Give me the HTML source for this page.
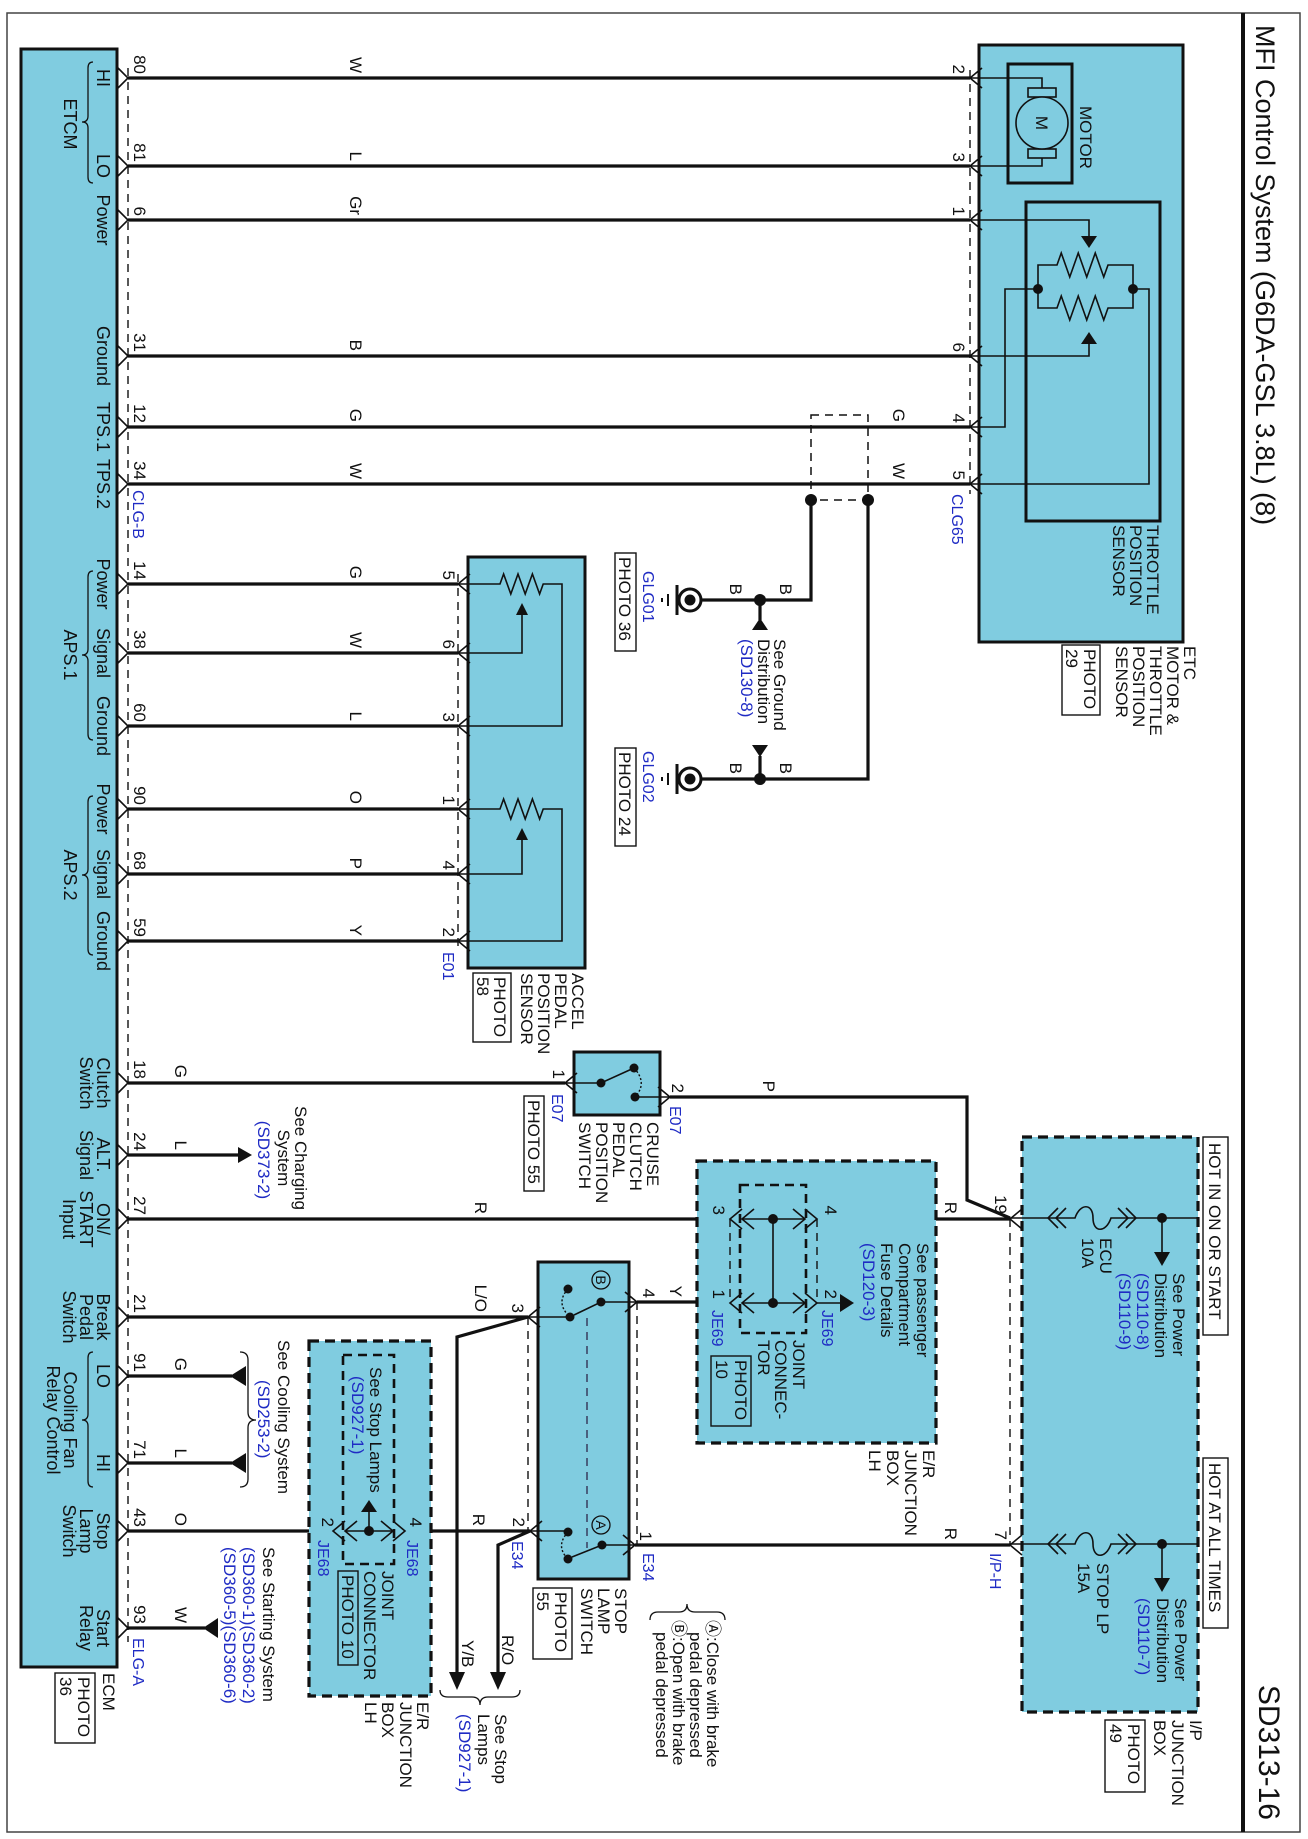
<!DOCTYPE html>
<html><head><meta charset="utf-8"><style>
html,body{margin:0;padding:0;background:#fff}
svg{display:block}
text{font-family:"Liberation Sans",Arial,sans-serif;font-size:17px;fill:#111}
.b,.b text,text.b{fill:#1f2bc4}
.s text,text.s{font-size:17px}
.b text{font-size:16px}
.m text,text.m{font-size:18px}
.w{stroke:#111;stroke-width:3.2;fill:none}
.th{stroke:#111;stroke-width:1.6;fill:none}
.dc{stroke:#111;stroke-width:1.4;fill:none;stroke-dasharray:8,6}
.box{fill:#80cce0;stroke:#111;stroke-width:3}
.jb{fill:#80cce0;stroke:#111;stroke-width:3.2;stroke-dasharray:10,6}
.ib{fill:none;stroke:#111;stroke-width:2.6;stroke-dasharray:9,6}
.pb{fill:#fff;stroke:#111;stroke-width:1.4}
.pbn{fill:none;stroke:#111;stroke-width:1.4}
</style></head><body>
<svg width="1308" height="1839" viewBox="0 0 1308 1839" xmlns="http://www.w3.org/2000/svg">
<rect x="0" y="0" width="1308" height="1839" fill="#fff"/>
<rect x="7" y="13" width="1293" height="1819" fill="none" stroke="#444" stroke-width="1.5"/>
<line x1="1243" y1="13" x2="1243" y2="1832" stroke="#111" stroke-width="4"/>
<text style="font-size:27px" transform="rotate(90 1256 25)" x="1256" y="25">MFI Control System (G6DA-GSL 3.8L) (8)</text>
<text style="font-size:30px" text-anchor="end" transform="rotate(90 1259 1820)" x="1259" y="1820">SD313-16</text>

<rect class="box" x="21" y="49" width="96" height="1618"/>
<line class="dc" x1="128" y1="68" x2="128" y2="1642"/>

<rect class="box" x="979" y="45" width="204" height="597"/>
<line class="dc" x1="970" y1="70" x2="970" y2="494"/>
<rect x="1008" y="64" width="64" height="119" fill="none" stroke="#111" stroke-width="3"/>
<rect x="1026" y="202" width="134" height="319" fill="none" stroke="#111" stroke-width="3"/>

<rect class="box" x="468" y="557" width="117" height="411"/>
<line class="dc" x1="458" y1="574" x2="458" y2="952"/>

<g class="w">
<path d="M128,78H970M128,166H970M128,220H970M128,356H970M128,427H970M128,484H970"/>
<path d="M128,584H458M128,653H458M128,726H458M128,809H458M128,874H458M128,941H458"/>
<path d="M128,1083H565M670,1097H967V1200L1010,1218"/>
<path d="M128,1155H240"/>
<path d="M128,1219H730M817,1219H1010"/>
<path d="M128,1317H528L457,1337V1675"/>
<path d="M637,1302H730"/>
<path d="M128,1376H232M128,1463H232"/>
<path d="M128,1531H333M405,1531H530L498,1545V1675"/>
<path d="M635,1545H1010"/>
<path d="M128,1628H205"/>
<path d="M811,500V600H702M868,500V779H702"/>
<path d="M760,600V620M760,779V756"/>
</g>
<path class="th" d="M118,68L128,78L118,88M118,156L128,166L118,176M118,210L128,220L118,230M118,346L128,356L118,366M118,417L128,427L118,437M118,474L128,484L118,494M118,574L128,584L118,594M118,643L128,653L118,663M118,716L128,726L118,736M118,799L128,809L118,819M118,864L128,874L118,884M118,931L128,941L118,951M118,1073L128,1083L118,1093M118,1145L128,1155L118,1165M118,1209L128,1219L118,1229M118,1307L128,1317L118,1327M118,1366L128,1376L118,1386M118,1453L128,1463L118,1473M118,1521L128,1531L118,1541M118,1618L128,1628L118,1638"/>
<path d="M238,1147L252,1155L238,1163Z M230,1376L246,1366L246,1386Z M230,1463L246,1453L246,1473Z M203,1628L218,1618L218,1638Z M449,1672L465,1672L457,1690Z M490,1672L506,1672L498,1690Z M752,630L768,630L760,618Z M752,745L768,745L760,757Z" fill="#111"/>

<path class="th" d="M982,68L970,78L982,88M982,156L970,166L982,176M982,210L970,220L982,230M982,346L970,356L982,366M982,417L970,427L982,437M982,474L970,484L982,494"/>
<path class="th" d="M970,78H1042V88M1042,158V166H970"/>
<rect x="1028" y="88" width="28" height="9" fill="none" stroke="#111" stroke-width="1.6"/>
<rect x="1028" y="149" width="28" height="9" fill="none" stroke="#111" stroke-width="1.6"/>
<circle cx="1042" cy="123" r="26" fill="#80cce0" stroke="#111" stroke-width="1.6"/>
<text text-anchor="middle" transform="rotate(90 1036 123)" x="1036" y="123">M</text>
<path class="th" d="M970,220H1089V236M970,356H1089V344"/>
<path d="M1081,236L1097,236L1089,248Z M1081,344L1097,344L1089,332Z" fill="#111"/>
<path class="th" d="M1038,289V265H1057l4.25,-12l8.5,24l8.5,-24l8.5,24l8.5,-24l8.5,24l4.25,-12H1133V289 M1038,289V308H1057l4.25,-12l8.5,24l8.5,-24l8.5,24l8.5,-24l8.5,24l4.25,-12H1133V289"/>
<path class="th" d="M1038,289H1005V427H970M1133,289H1149V484H970"/>
<circle cx="1038" cy="289" r="5" fill="#111"/><circle cx="1133" cy="289" r="5" fill="#111"/>
<rect x="811" y="415" width="57" height="85" fill="none" stroke="#111" stroke-width="1.5" stroke-dasharray="8,6"/>
<circle cx="811" cy="500" r="6" fill="#111"/><circle cx="868" cy="500" r="6" fill="#111"/>
<circle cx="760" cy="600" r="6" fill="#111"/><circle cx="760" cy="779" r="6" fill="#111"/>
<g>
<circle cx="690" cy="600" r="11" fill="#fff" stroke="#111" stroke-width="3"/><circle cx="690" cy="600" r="5.5" fill="#111"/>
<line x1="677" y1="585" x2="677" y2="615" stroke="#111" stroke-width="3"/>
<line x1="668" y1="594" x2="668" y2="606" stroke="#111" stroke-width="2"/>
<line x1="662" y1="598" x2="662" y2="602" stroke="#111" stroke-width="2"/>
<circle cx="690" cy="779" r="11" fill="#fff" stroke="#111" stroke-width="3"/><circle cx="690" cy="779" r="5.5" fill="#111"/>
<line x1="677" y1="764" x2="677" y2="794" stroke="#111" stroke-width="3"/>
<line x1="668" y1="773" x2="668" y2="785" stroke="#111" stroke-width="2"/>
<line x1="662" y1="777" x2="662" y2="781" stroke="#111" stroke-width="2"/>
</g>

<path class="th" d="M470,574L458,584L470,594M470,643L458,653L470,663M470,716L458,726L470,736M470,799L458,809L470,819M470,864L458,874L470,884M470,931L458,941L470,951"/>
<path class="th" d="M458,584H500l3.6,-10l7.2,20l7.2,-20l7.2,20l7.2,-20l7.2,20l3.6,-10H562V726H458M458,653H522V615"/>
<path class="th" d="M458,809H500l3.6,-10l7.2,20l7.2,-20l7.2,20l7.2,-20l7.2,20l3.6,-10H562V941H458M458,874H522V840"/>
<path d="M516,615L528,615L522,603Z M516,840L528,840L522,828Z" fill="#111"/>

<rect class="box" x="574" y="1052" width="86" height="63"/>
<path class="th" d="M577,1073L565,1083L577,1093M658,1087L670,1097L658,1107M565,1083H601L634,1068M635,1097H670"/>
<path d="M634,1068Q648,1083 635,1097" fill="none" stroke="#111" stroke-width="1.4" stroke-dasharray="2,2"/>
<circle cx="601" cy="1083" r="4.5" fill="#111"/><circle cx="634" cy="1068" r="4.5" fill="#111"/><circle cx="635" cy="1097" r="4.5" fill="#111"/>

<rect class="box" x="538" y="1262" width="91" height="317"/>
<line class="dc" x1="528" y1="1317" x2="528" y2="1531"/>
<line class="dc" x1="637" y1="1302" x2="637" y2="1545"/>
<line x1="587" y1="1318" x2="587" y2="1548" stroke="#335" stroke-width="1.4" stroke-dasharray="8,6"/>
<path class="th" d="M625,1292L637,1302L625,1312M540,1307L528,1317L540,1327M542,1521L530,1531L542,1541M623,1535L635,1545L623,1555"/>
<path class="th" d="M637,1302H601L574,1315M570,1317H528M530,1531H568M635,1545H602L572,1557"/>
<path d="M568,1289Q555,1303 570,1317M568,1532Q555,1546 568,1559" fill="none" stroke="#111" stroke-width="1.4" stroke-dasharray="2,2"/>
<circle cx="601" cy="1302" r="4.5" fill="#111"/><circle cx="568" cy="1289" r="4.5" fill="#111"/><circle cx="570" cy="1317" r="4.5" fill="#111"/>
<circle cx="568" cy="1532" r="4.5" fill="#111"/><circle cx="602" cy="1545" r="4.5" fill="#111"/><circle cx="568" cy="1559" r="4.5" fill="#111"/>
<circle cx="601" cy="1280" r="9" fill="none" stroke="#111" stroke-width="1.3"/>
<circle cx="601" cy="1525" r="9" fill="none" stroke="#111" stroke-width="1.3"/>
<text style="font-size:14px" text-anchor="middle" transform="rotate(90 596 1280)" x="596" y="1280">B</text>
<text style="font-size:14px" text-anchor="middle" transform="rotate(90 596 1525)" x="596" y="1525">A</text>

<rect class="jb" x="697" y="1161" width="239" height="282"/>
<rect class="ib" x="740" y="1185" width="66" height="148"/>
<line class="dc" x1="730" y1="1219" x2="730" y2="1303"/>
<line class="dc" x1="817" y1="1219" x2="817" y2="1303"/>
<path class="th" d="M742,1209L730,1219L742,1229M754,1209L742,1219L754,1229M742,1293L730,1303L742,1313M754,1293L742,1303L754,1313M805,1209L817,1219L805,1229M793,1209L805,1219L793,1229M805,1293L817,1303L805,1313M793,1293L805,1303L793,1313"/>
<path class="th" d="M742,1219H805M742,1303H805M773,1219V1303M817,1303H841"/>
<path d="M840,1294L840,1312L854,1303Z" fill="#111"/>
<circle cx="773" cy="1219" r="5" fill="#111"/><circle cx="773" cy="1303" r="5" fill="#111"/>

<rect class="jb" x="309" y="1341" width="122" height="355"/>
<rect class="ib" x="343" y="1355" width="51" height="209"/>
<path class="th" d="M345,1521L333,1531L345,1541M357,1521L345,1531L357,1541M393,1521L405,1531L393,1541M381,1521L393,1531L381,1541M345,1531H393M369,1531V1512"/>
<path d="M361,1512L377,1512L369,1500Z" fill="#111"/>
<circle cx="369" cy="1531" r="5" fill="#111"/>

<rect class="jb" x="1022" y="1137" width="176" height="575"/>
<line class="dc" x1="1010" y1="1219" x2="1010" y2="1545"/>
<path class="th" d="M1022,1209L1010,1219L1022,1229M1022,1535L1010,1545L1022,1555"/>
<path class="th" d="M1010,1218H1075C1080,1203 1093,1203 1093,1218C1093,1233 1106,1233 1111,1218H1162H1198M1162,1218V1252"/>
<path class="th" d="M1058,1208L1048,1218L1058,1228M1066,1208L1056,1218L1066,1228M1118,1208L1128,1218L1118,1228M1126,1208L1136,1218L1126,1228"/>
<path d="M1154,1252L1170,1252L1162,1266Z" fill="#111"/>
<circle cx="1162" cy="1218" r="5" fill="#111"/>
<path class="th" d="M1010,1544H1075C1080,1529 1093,1529 1093,1544C1093,1559 1106,1559 1111,1544H1162H1198M1162,1544V1578"/>
<path class="th" d="M1058,1534L1048,1544L1058,1554M1066,1534L1056,1544L1066,1554M1118,1534L1128,1544L1118,1554M1126,1534L1136,1544L1126,1554"/>
<path d="M1154,1578L1170,1578L1162,1592Z" fill="#111"/>
<circle cx="1162" cy="1544" r="5" fill="#111"/>
<rect class="pb" x="1203" y="1137" width="25" height="198"/>
<rect class="pb" x="1203" y="1458" width="25" height="170"/>
<text class="s" transform="rotate(90 1209 1143)" x="1209" y="1143">HOT IN ON OR START</text>
<text class="s" transform="rotate(90 1209 1463)" x="1209" y="1463">HOT AT ALL TIMES</text>

<g fill="none" stroke="#111" stroke-width="1.3">
<path d="M93,62Q88,62 88,68V116Q88,122 82,122Q88,122 88,128V177Q88,183 93,183"/>
<path d="M93,571Q88,571 88,577V649Q88,655 82,655Q88,655 88,661V734Q88,740 93,740"/>
<path d="M93,796Q88,796 88,802V869Q88,875 82,875Q88,875 88,881V949Q88,955 93,955"/>
<path d="M93,1352Q88,1352 88,1358V1414Q88,1420 82,1420Q88,1420 88,1426V1481Q88,1487 93,1487"/>
<path d="M240,1352Q248,1352 248,1360V1412Q248,1420 256,1420Q248,1420 248,1428V1479Q248,1487 240,1487"/>
<path d="M440,1690Q440,1697 448,1697H472Q480,1697 480,1705Q480,1697 488,1697H512Q520,1697 520,1690"/>
<path d="M650,1620Q650,1612 658,1612H679Q687,1612 687,1604Q687,1612 695,1612H717Q725,1612 725,1620"/>
</g>

<rect class="pb" x="1062" y="645" width="38" height="70"/>
<rect class="pb" x="615" y="553" width="21" height="98"/>
<rect class="pb" x="615" y="748" width="21" height="98"/>
<rect class="pb" x="473" y="973" width="38" height="69"/>
<rect class="pb" x="524" y="1096" width="20" height="95"/>
<rect class="pb" x="533" y="1588" width="39" height="71"/>
<rect class="pbn" x="711" y="1356" width="40" height="70"/>
<rect class="pbn" x="338" y="1571" width="20" height="94"/>
<rect class="pb" x="1105" y="1720" width="40" height="72"/>
<rect class="pb" x="55" y="1673" width="40" height="70"/>

<g text-anchor="end">
<text transform="rotate(90 134 74)" x="134" y="74">80</text>
<text transform="rotate(90 134 162)" x="134" y="162">81</text>
<text transform="rotate(90 134 216)" x="134" y="216">6</text>
<text transform="rotate(90 134 352)" x="134" y="352">31</text>
<text transform="rotate(90 134 423)" x="134" y="423">12</text>
<text transform="rotate(90 134 480)" x="134" y="480">34</text>
<text transform="rotate(90 134 580)" x="134" y="580">14</text>
<text transform="rotate(90 134 649)" x="134" y="649">38</text>
<text transform="rotate(90 134 722)" x="134" y="722">60</text>
<text transform="rotate(90 134 805)" x="134" y="805">90</text>
<text transform="rotate(90 134 870)" x="134" y="870">68</text>
<text transform="rotate(90 134 937)" x="134" y="937">59</text>
<text transform="rotate(90 134 1079)" x="134" y="1079">18</text>
<text transform="rotate(90 134 1151)" x="134" y="1151">24</text>
<text transform="rotate(90 134 1215)" x="134" y="1215">27</text>
<text transform="rotate(90 134 1313)" x="134" y="1313">21</text>
<text transform="rotate(90 134 1372)" x="134" y="1372">91</text>
<text transform="rotate(90 134 1459)" x="134" y="1459">71</text>
<text transform="rotate(90 134 1527)" x="134" y="1527">43</text>
<text transform="rotate(90 134 1624)" x="134" y="1624">93</text>
<text transform="rotate(90 953 74)" x="953" y="74">2</text>
<text transform="rotate(90 953 162)" x="953" y="162">3</text>
<text transform="rotate(90 953 216)" x="953" y="216">1</text>
<text transform="rotate(90 953 352)" x="953" y="352">6</text>
<text transform="rotate(90 953 423)" x="953" y="423">4</text>
<text transform="rotate(90 953 480)" x="953" y="480">5</text>
<text transform="rotate(90 443 580)" x="443" y="580">5</text>
<text transform="rotate(90 443 649)" x="443" y="649">6</text>
<text transform="rotate(90 443 722)" x="443" y="722">3</text>
<text transform="rotate(90 443 805)" x="443" y="805">1</text>
<text transform="rotate(90 443 870)" x="443" y="870">4</text>
<text transform="rotate(90 443 937)" x="443" y="937">2</text>
<text transform="rotate(90 553 1079)" x="553" y="1079">1</text>
<text transform="rotate(90 672 1093)" x="672" y="1093">2</text>
<text transform="rotate(90 643 1298)" x="643" y="1298">4</text>
<text transform="rotate(90 512 1313)" x="512" y="1313">3</text>
<text transform="rotate(90 513 1527)" x="513" y="1527">2</text>
<text transform="rotate(90 640 1541)" x="640" y="1541">1</text>
<text transform="rotate(90 713 1215)" x="713" y="1215">3</text>
<text transform="rotate(90 825 1215)" x="825" y="1215">4</text>
<text transform="rotate(90 713 1299)" x="713" y="1299">1</text>
<text transform="rotate(90 825 1299)" x="825" y="1299">2</text>
<text transform="rotate(90 410 1527)" x="410" y="1527">4</text>
<text transform="rotate(90 322 1527)" x="322" y="1527">2</text>
<text transform="rotate(90 995 1214)" x="995" y="1214">19</text>
<text transform="rotate(90 995 1540)" x="995" y="1540">7</text>
<text transform="rotate(90 350 73)" x="350" y="73">W</text>
<text transform="rotate(90 350 161)" x="350" y="161">L</text>
<text transform="rotate(90 350 215)" x="350" y="215">Gr</text>
<text transform="rotate(90 350 351)" x="350" y="351">B</text>
<text transform="rotate(90 350 422)" x="350" y="422">G</text>
<text transform="rotate(90 350 479)" x="350" y="479">W</text>
<text transform="rotate(90 893 422)" x="893" y="422">G</text>
<text transform="rotate(90 893 479)" x="893" y="479">W</text>
<text transform="rotate(90 350 579)" x="350" y="579">G</text>
<text transform="rotate(90 350 648)" x="350" y="648">W</text>
<text transform="rotate(90 350 721)" x="350" y="721">L</text>
<text transform="rotate(90 350 804)" x="350" y="804">O</text>
<text transform="rotate(90 350 869)" x="350" y="869">P</text>
<text transform="rotate(90 350 936)" x="350" y="936">Y</text>
<text transform="rotate(90 175 1078)" x="175" y="1078">G</text>
<text transform="rotate(90 175 1150)" x="175" y="1150">L</text>
<text transform="rotate(90 475 1214)" x="475" y="1214">R</text>
<text transform="rotate(90 475 1312)" x="475" y="1312">L/O</text>
<text transform="rotate(90 175 1371)" x="175" y="1371">G</text>
<text transform="rotate(90 175 1458)" x="175" y="1458">L</text>
<text transform="rotate(90 175 1526)" x="175" y="1526">O</text>
<text transform="rotate(90 175 1623)" x="175" y="1623">W</text>
<text transform="rotate(90 763 1092)" x="763" y="1092">P</text>
<text transform="rotate(90 945 1214)" x="945" y="1214">R</text>
<text transform="rotate(90 670 1297)" x="670" y="1297">Y</text>
<text transform="rotate(90 473 1526)" x="473" y="1526">R</text>
<text transform="rotate(90 945 1540)" x="945" y="1540">R</text>
<text transform="rotate(90 780 595)" x="780" y="595">B</text>
<text transform="rotate(90 730 595)" x="730" y="595">B</text>
<text transform="rotate(90 780 774)" x="780" y="774">B</text>
<text transform="rotate(90 730 774)" x="730" y="774">B</text>
</g>
<text transform="rotate(90 462 1640)" x="462" y="1640">Y/B</text>
<text transform="rotate(90 502 1635)" x="502" y="1635">R/O</text>

<g class="m" text-anchor="middle">
<text transform="rotate(90 97 78)" x="97" y="78">HI</text>
<text transform="rotate(90 97 166)" x="97" y="166">LO</text>
<text transform="rotate(90 64 124)" x="64" y="124">ETCM</text>
<text transform="rotate(90 97 220)" x="97" y="220">Power</text>
<text transform="rotate(90 97 356)" x="97" y="356">Ground</text>
<text transform="rotate(90 97 427)" x="97" y="427">TPS.1</text>
<text transform="rotate(90 97 484)" x="97" y="484">TPS.2</text>
<text transform="rotate(90 97 584)" x="97" y="584">Power</text>
<text transform="rotate(90 97 653)" x="97" y="653">Signal</text>
<text transform="rotate(90 97 726)" x="97" y="726">Ground</text>
<text transform="rotate(90 64 655)" x="64" y="655">APS.1</text>
<text transform="rotate(90 97 809)" x="97" y="809">Power</text>
<text transform="rotate(90 97 874)" x="97" y="874">Signal</text>
<text transform="rotate(90 97 941)" x="97" y="941">Ground</text>
<text transform="rotate(90 64 875)" x="64" y="875">APS.2</text>
<text transform="rotate(90 97 1083)" x="97" y="1083">Clutch</text>
<text transform="rotate(90 80 1083)" x="80" y="1083">Switch</text>
<text transform="rotate(90 97 1155)" x="97" y="1155">ALT.</text>
<text transform="rotate(90 80 1155)" x="80" y="1155">Signal</text>
<text transform="rotate(90 97 1219)" x="97" y="1219">ON/</text>
<text transform="rotate(90 80 1219)" x="80" y="1219">START</text>
<text transform="rotate(90 63 1219)" x="63" y="1219">Input</text>
<text transform="rotate(90 97 1317)" x="97" y="1317">Break</text>
<text transform="rotate(90 80 1317)" x="80" y="1317">Pedal</text>
<text transform="rotate(90 63 1317)" x="63" y="1317">Switch</text>
<text transform="rotate(90 97 1376)" x="97" y="1376">LO</text>
<text transform="rotate(90 97 1463)" x="97" y="1463">HI</text>
<text transform="rotate(90 64 1420)" x="64" y="1420">Cooling Fan</text>
<text transform="rotate(90 47 1420)" x="47" y="1420">Relay Control</text>
<text transform="rotate(90 97 1531)" x="97" y="1531">Stop</text>
<text transform="rotate(90 80 1531)" x="80" y="1531">Lamp</text>
<text transform="rotate(90 63 1531)" x="63" y="1531">Switch</text>
<text transform="rotate(90 97 1628)" x="97" y="1628">Start</text>
<text transform="rotate(90 80 1628)" x="80" y="1628">Relay</text>
</g>

<g class="b">
<text transform="rotate(90 952 494)" x="952" y="494">CLG65</text>
<text transform="rotate(90 133 490)" x="133" y="490">CLG-B</text>
<text transform="rotate(90 443 952)" x="443" y="952">E01</text>
<text transform="rotate(90 643 571)" x="643" y="571">GLG01</text>
<text transform="rotate(90 643 751)" x="643" y="751">GLG02</text>
<text transform="rotate(90 552 1094)" x="552" y="1094">E07</text>
<text transform="rotate(90 670 1106)" x="670" y="1106">E07</text>
<text transform="rotate(90 712 1310)" x="712" y="1310">JE69</text>
<text transform="rotate(90 822 1310)" x="822" y="1310">JE69</text>
<text transform="rotate(90 512 1541)" x="512" y="1541">E34</text>
<text transform="rotate(90 643 1553)" x="643" y="1553">E34</text>
<text transform="rotate(90 407 1540)" x="407" y="1540">JE68</text>
<text transform="rotate(90 318 1540)" x="318" y="1540">JE68</text>
<text transform="rotate(90 990 1553)" x="990" y="1553">I/P-H</text>
<text transform="rotate(90 133 1638)" x="133" y="1638">ELG-A</text>
</g>

<g class="s">
<text transform="rotate(90 1080 106)" x="1080" y="106">MOTOR</text>
<text transform="rotate(90 1147 525)" x="1147" y="525">THROTTLE</text>
<text transform="rotate(90 1130 525)" x="1130" y="525">POSITION</text>
<text transform="rotate(90 1113 525)" x="1113" y="525">SENSOR</text>
<text transform="rotate(90 1184 646)" x="1184" y="646">ETC</text>
<text transform="rotate(90 1167 646)" x="1167" y="646">MOTOR &amp;</text>
<text transform="rotate(90 1150 646)" x="1150" y="646">THROTTLE</text>
<text transform="rotate(90 1133 646)" x="1133" y="646">POSITION</text>
<text transform="rotate(90 1116 646)" x="1116" y="646">SENSOR</text>
<text transform="rotate(90 1084 649)" x="1084" y="649">PHOTO</text>
<text transform="rotate(90 1066 649)" x="1066" y="649">29</text>
<text transform="rotate(90 619 557)" x="619" y="557">PHOTO 36</text>
<text transform="rotate(90 619 752)" x="619" y="752">PHOTO 24</text>
<text transform="rotate(90 774 639)" x="774" y="639">See Ground</text>
<text transform="rotate(90 758 639)" x="758" y="639">Distribution</text>
<text class="b" transform="rotate(90 741 639)" x="741" y="639">(SD130-8)</text>
<text transform="rotate(90 572 973)" x="572" y="973">ACCEL</text>
<text transform="rotate(90 555 973)" x="555" y="973">PEDAL</text>
<text transform="rotate(90 538 973)" x="538" y="973">POSITION</text>
<text transform="rotate(90 521 973)" x="521" y="973">SENSOR</text>
<text transform="rotate(90 494 977)" x="494" y="977">PHOTO</text>
<text transform="rotate(90 477 977)" x="477" y="977">58</text>
<text transform="rotate(90 647 1122)" x="647" y="1122">CRUISE</text>
<text transform="rotate(90 630 1122)" x="630" y="1122">CLUTCH</text>
<text transform="rotate(90 613 1122)" x="613" y="1122">PEDAL</text>
<text transform="rotate(90 596 1122)" x="596" y="1122">POSITION</text>
<text transform="rotate(90 579 1122)" x="579" y="1122">SWITCH</text>
<text transform="rotate(90 528 1100)" x="528" y="1100">PHOTO 55</text>
<text transform="rotate(90 295 1158)" x="295" y="1158" text-anchor="middle">See Charging</text>
<text transform="rotate(90 278 1158)" x="278" y="1158" text-anchor="middle">System</text>
<text class="b" transform="rotate(90 258 1160)" x="258" y="1160" text-anchor="middle">(SD373-2)</text>
<text transform="rotate(90 917 1243)" x="917" y="1243">See passenger</text>
<text transform="rotate(90 899 1243)" x="899" y="1243">Compartment</text>
<text transform="rotate(90 881 1243)" x="881" y="1243">Fuse Details</text>
<text class="b" transform="rotate(90 863 1243)" x="863" y="1243">(SD120-3)</text>
<text transform="rotate(90 793 1340)" x="793" y="1340">JOINT</text>
<text transform="rotate(90 775 1340)" x="775" y="1340">CONNEC-</text>
<text transform="rotate(90 758 1340)" x="758" y="1340">TOR</text>
<text transform="rotate(90 735 1360)" x="735" y="1360">PHOTO</text>
<text transform="rotate(90 716 1360)" x="716" y="1360">10</text>
<text transform="rotate(90 923 1450)" x="923" y="1450">E/R</text>
<text transform="rotate(90 905 1450)" x="905" y="1450">JUNCTION</text>
<text transform="rotate(90 887 1450)" x="887" y="1450">BOX</text>
<text transform="rotate(90 869 1450)" x="869" y="1450">LH</text>
<text transform="rotate(90 278 1340)" x="278" y="1340">See Cooling System</text>
<text class="b" transform="rotate(90 258 1380)" x="258" y="1380">(SD253-2)</text>
<text transform="rotate(90 370 1367)" x="370" y="1367">See Stop Lamps</text>
<text class="b" transform="rotate(90 352 1376)" x="352" y="1376">(SD927-1)</text>
<text transform="rotate(90 382 1571)" x="382" y="1571">JOINT</text>
<text transform="rotate(90 364 1571)" x="364" y="1571">CONNECTOR</text>
<text transform="rotate(90 342 1575)" x="342" y="1575">PHOTO 10</text>
<text transform="rotate(90 417 1702)" x="417" y="1702">E/R</text>
<text transform="rotate(90 400 1702)" x="400" y="1702">JUNCTION</text>
<text transform="rotate(90 382 1702)" x="382" y="1702">BOX</text>
<text transform="rotate(90 365 1702)" x="365" y="1702">LH</text>
<text transform="rotate(90 495 1714)" x="495" y="1714">See Stop</text>
<text transform="rotate(90 478 1714)" x="478" y="1714">Lamps</text>
<text class="b" transform="rotate(90 459 1714)" x="459" y="1714">(SD927-1)</text>
<text transform="rotate(90 615 1588)" x="615" y="1588">STOP</text>
<text transform="rotate(90 598 1588)" x="598" y="1588">LAMP</text>
<text transform="rotate(90 581 1588)" x="581" y="1588">SWITCH</text>
<text transform="rotate(90 555 1592)" x="555" y="1592">PHOTO</text>
<text transform="rotate(90 537 1592)" x="537" y="1592">55</text>
<text transform="rotate(90 707 1620)" x="707" y="1620">Ⓐ:Close with brake</text>
<text transform="rotate(90 690 1632)" x="690" y="1632">pedal depressed</text>
<text transform="rotate(90 673 1620)" x="673" y="1620">Ⓑ:Open with brake</text>
<text transform="rotate(90 656 1632)" x="656" y="1632">pedal depressed</text>
<text transform="rotate(90 263 1547)" x="263" y="1547">See Starting System</text>
<text class="b" transform="rotate(90 243 1547)" x="243" y="1547">(SD360-1)(SD360-2)</text>
<text class="b" transform="rotate(90 224 1547)" x="224" y="1547">(SD360-5)(SD360-6)</text>
<text transform="rotate(90 103 1673)" x="103" y="1673">ECM</text>
<text transform="rotate(90 78 1677)" x="78" y="1677">PHOTO</text>
<text transform="rotate(90 60 1677)" x="60" y="1677">36</text>
<text transform="rotate(90 1100 1238)" x="1100" y="1238">ECU</text>
<text transform="rotate(90 1082 1238)" x="1082" y="1238">10A</text>
<text transform="rotate(90 1173 1273)" x="1173" y="1273">See Power</text>
<text transform="rotate(90 1155 1273)" x="1155" y="1273">Distribution</text>
<text class="b" transform="rotate(90 1137 1273)" x="1137" y="1273">(SD110-8)</text>
<text class="b" transform="rotate(90 1119 1273)" x="1119" y="1273">(SD110-9)</text>
<text transform="rotate(90 1097 1563)" x="1097" y="1563">STOP LP</text>
<text transform="rotate(90 1078 1563)" x="1078" y="1563">15A</text>
<text transform="rotate(90 1175 1598)" x="1175" y="1598">See Power</text>
<text transform="rotate(90 1157 1598)" x="1157" y="1598">Distribution</text>
<text class="b" transform="rotate(90 1138 1598)" x="1138" y="1598">(SD110-7)</text>
<text transform="rotate(90 1190 1720)" x="1190" y="1720">I/P</text>
<text transform="rotate(90 1172 1720)" x="1172" y="1720">JUNCTION</text>
<text transform="rotate(90 1154 1720)" x="1154" y="1720">BOX</text>
<text transform="rotate(90 1128 1724)" x="1128" y="1724">PHOTO</text>
<text transform="rotate(90 1110 1724)" x="1110" y="1724">49</text>
</g>
</svg>
</body></html>
